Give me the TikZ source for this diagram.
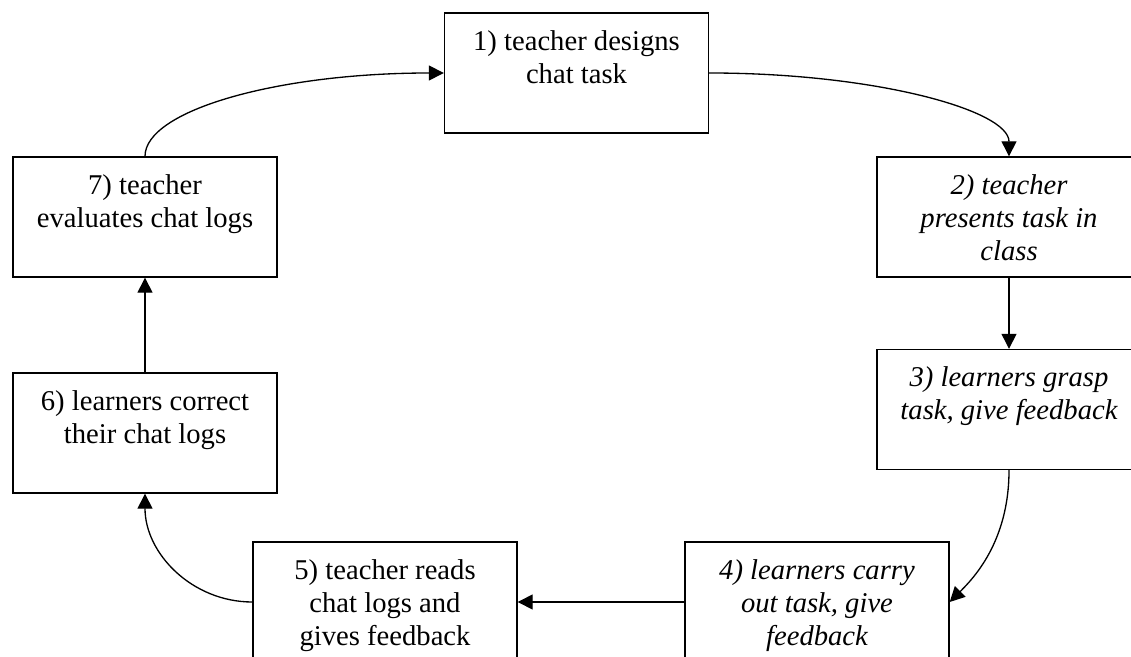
\documentclass[tikz,border=0pt]{standalone}
\usepackage{fontspec}
\setmainfont{Liberation Serif}
\usetikzlibrary{arrows.meta}

\tikzset{
  stage/.style={draw, line width=0.8pt, inner sep=0pt},
  link/.style={line width=0.75pt, -{Triangle[length=0.3cm,width=0.3cm]}}
}
\newcommand{\stagetext}[1]{\parbox[c][2.4cm][t]{5.28cm}{\centering
  \fontsize{16.3}{18.8}\selectfont\rule{0pt}{0.74cm}#1}}

\begin{document}
\begin{tikzpicture}[x=0.02cm, y=0.02cm]
  \useasboundingbox (0,0) rectangle (1131,656);
  % Nodes
  \node[stage] (s1) at (576.5,583) {\stagetext{1) teacher designs\\ chat task}};
  \node[stage] (s2) at (1009,439) {\stagetext{\itshape 2) teacher\\ presents task in\\ class}};
  \node[stage] (s3) at (1009,246.5) {\stagetext{\itshape 3) learners grasp\\ task, give feedback}};
  \node[stage] (s4) at (817,54) {\stagetext{\itshape 4) learners carry\\ out task, give\\ feedback}};
  \node[stage] (s5) at (385,54) {\stagetext{5) teacher reads\\ chat logs and\\ gives feedback}};
  \node[stage] (s6) at (145,223) {\stagetext{6) learners correct\\ their chat logs}};
  \node[stage] (s7) at (145,439) {\stagetext{7) teacher\\ evaluates chat logs}};
  % Edges
  \draw[link] (s1.east) .. controls +(166,0) and +(0,46) .. (s2.north);
  \draw[link] (s2) -- (s3);
  \draw[link] (s3.south) .. controls +(0,-72) and +(23,23) .. (s4.east);
  \draw[link] (s4) -- (s5);
  \draw[link] (s5.west) .. controls +(-60,0) and +(0,-60) .. (s6.south);
  \draw[link] (s6) -- (s7);
  \draw[link] (s7.north) .. controls +(0,46) and +(-166,0) .. (s1.west);
\end{tikzpicture}
\end{document}
